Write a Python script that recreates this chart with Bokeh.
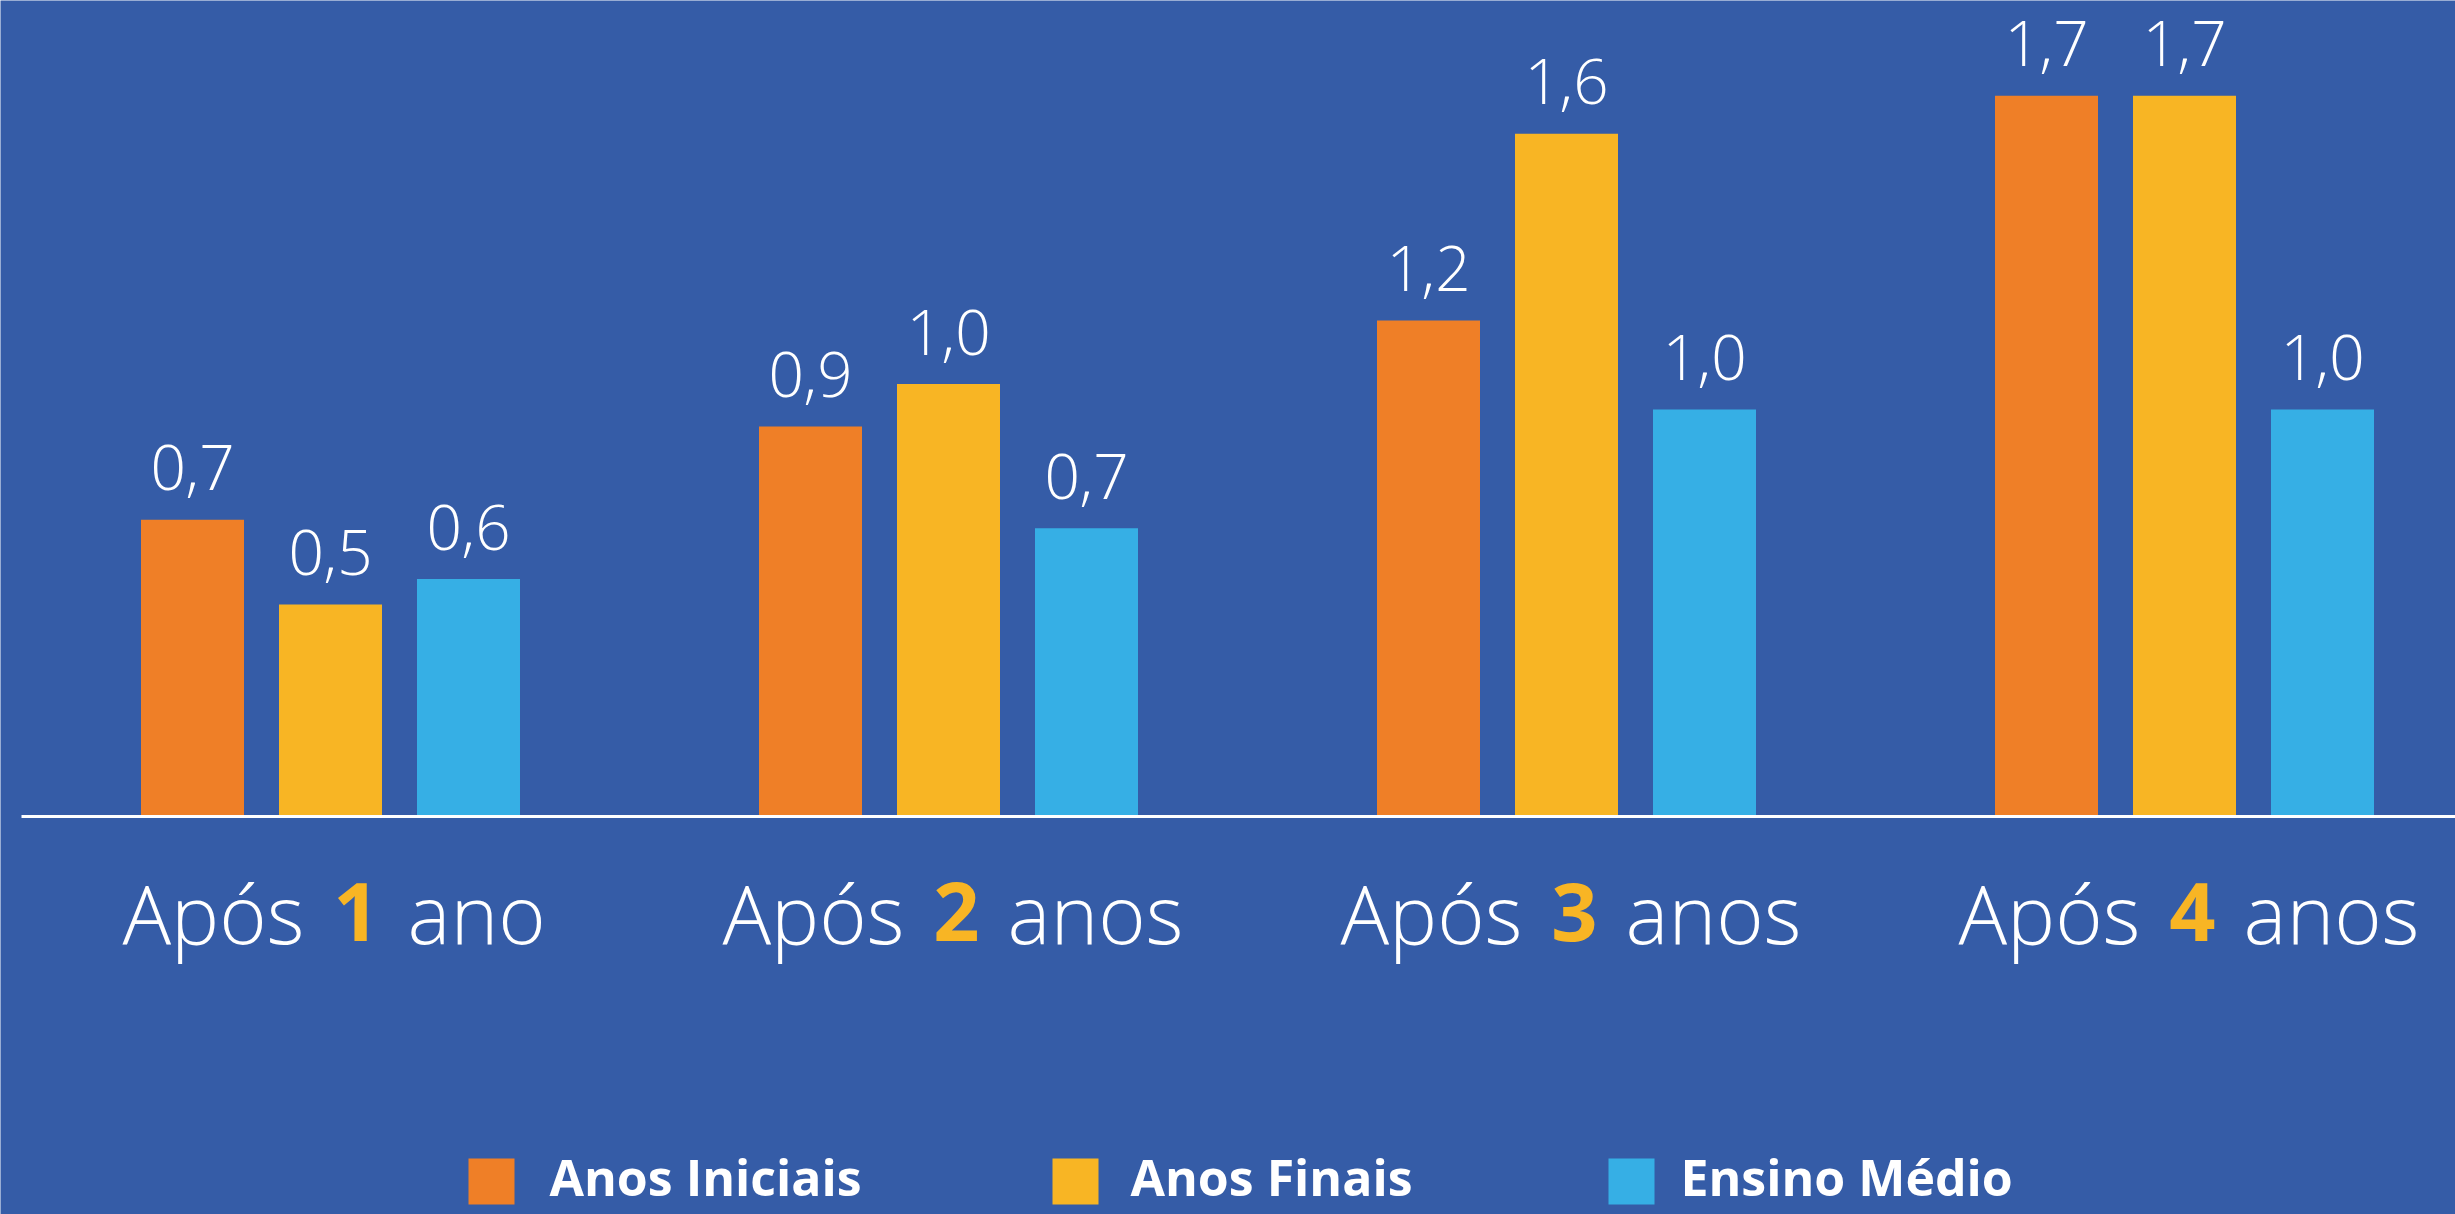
from bokeh.plotting import figure
from bokeh.models import ColumnDataSource, Range1d
from bokeh.core.properties import value
from bokeh.transform import dodge
from bokeh.embed import file_html
from bokeh.resources import INLINE

# ---------------- data ----------------
prefixes = ["Após", "Após", "Após", "Após"]
numbers = ["1", "2", "3", "4"]
suffixes = ["ano", "anos", "anos", "anos"]
series = ["Anos Iniciais", "Anos Finais", "Ensino Médio"]
anos_iniciais = [0.70, 0.92, 1.17, 1.70]
anos_finais = [0.50, 1.02, 1.61, 1.70]
ensino_medio = [0.56, 0.68, 0.96, 0.96]

# ---------------- style / layout ----------------
W, H = 2455, 1214
BG = "#355CA7"
COLORS = ["#EF7F27", "#F8B524", "#36AFE5"]
FONT = "Open Sans Light"
BFONT = "Open Sans"
FIRST_PX, GROUP_PX = 330, 618
BASE_PX, UNIT_PX = 816, 424
SHIFT = 0.385  # correction of the svg baseline placement (fraction of font size)


def px_to_x(px):
    return (px - FIRST_PX) / GROUP_PX


def px_to_y(py):
    return (BASE_PX - py) / UNIT_PX


p = figure(width=W, height=H,
           x_range=Range1d(px_to_x(0), px_to_x(W)),
           y_range=Range1d(px_to_y(H), px_to_y(0)),
           output_backend="svg", toolbar_location=None,
           x_axis_location=None, y_axis_location=None,
           min_border=0, min_border_left=0, min_border_right=0,
           min_border_top=0, min_border_bottom=0,
           background_fill_color=BG, border_fill_color=BG,
           outline_line_color=None)
p.grid.visible = False


def fmt(v):
    return f"{v:.1f}".replace(".", ",")


src = ColumnDataSource(dict(
    x=list(range(len(numbers))),
    s0=anos_iniciais, s1=anos_finais, s2=ensino_medio,
    l0=[fmt(v) for v in anos_iniciais],
    l1=[fmt(v) for v in anos_finais],
    l2=[fmt(v) for v in ensino_medio],
))

offsets = [-138 / GROUP_PX, 0.0, 138 / GROUP_PX]
bar_w = 103 / GROUP_PX
for i, (off, col) in enumerate(zip(offsets, COLORS)):
    p.vbar(x=dodge("x", off, range=p.x_range), top=f"s{i}", bottom=0,
           width=bar_w, fill_color=col, line_color=None, source=src)
    p.text(x=dodge("x", off, range=p.x_range), y=f"s{i}", text=f"l{i}",
           source=src, text_align="center", text_baseline="alphabetic",
           y_offset=-28 - SHIFT * 62, text_font=value(FONT), text_font_size="62px",
           text_color="white")

# baseline
p.line(x=[px_to_x(21), px_to_x(W)], y=[0, 0], line_color="white", line_width=3)

# group labels: "Após" + bold number + "anos"
lab_src = ColumnDataSource(dict(
    x=[i + (8 + (4 - len(s)) * 18) / GROUP_PX for i, s in enumerate(suffixes)],
    pre=prefixes, num=numbers, suf=suffixes,
))
LY = 127 - SHIFT * 81
p.text(x="x", y=0, text="num", source=lab_src, text_align="center",
       text_baseline="alphabetic", y_offset=LY, text_font=value(BFONT),
       text_font_size="81px", text_font_style="bold", text_color=COLORS[1])
p.text(x="x", y=0, text="pre", source=lab_src, text_align="right",
       text_baseline="alphabetic", y_offset=LY, x_offset=-52,
       text_font=value(FONT), text_font_size="81px", text_color="white")
p.text(x="x", y=0, text="suf", source=lab_src, text_align="left",
       text_baseline="alphabetic", y_offset=LY, x_offset=51,
       text_font=value(FONT), text_font_size="81px", text_color="white")

# legend
sq_left = [468, 1052, 1608]
txt_left = [549, 1130, 1680]
leg = ColumnDataSource(dict(
    left=[px_to_x(v) for v in sq_left],
    right=[px_to_x(v + 46) for v in sq_left],
    top=[px_to_y(1158)] * 3,
    bottom=[px_to_y(1204)] * 3,
    tx=[px_to_x(v) for v in txt_left],
    ty=[px_to_y(1196)] * 3,
    color=COLORS, label=series,
))
p.quad(left="left", right="right", top="top", bottom="bottom",
       fill_color="color", line_color=None, source=leg)
p.text(x="tx", y="ty", text="label", source=leg, text_align="left",
       text_baseline="alphabetic", y_offset=-SHIFT * 50, text_font=value(BFONT),
       text_font_size="50px", text_font_style="bold", text_color="white")

open("out.html", "w").write(file_html(p, INLINE))
